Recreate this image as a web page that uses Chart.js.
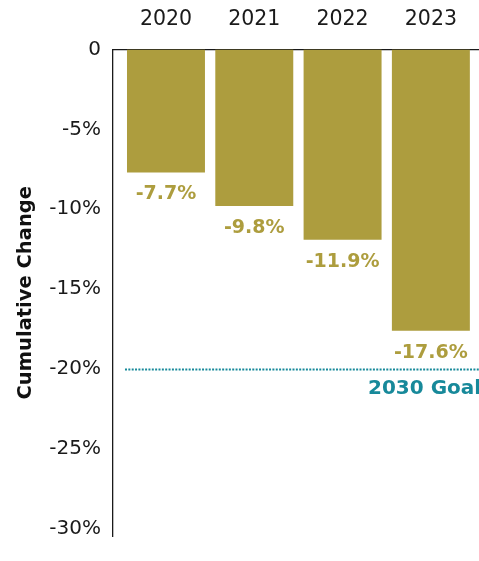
<!DOCTYPE html>
<html>
<head>
<meta charset="utf-8">
<script src="https://cdn.jsdelivr.net/npm/chart.js@4/dist/chart.umd.min.js"></script>
<style>
  html, body { margin: 0; padding: 0; background: #ffffff; }
  #wrap { width: 479px; height: 561px; }
</style>
</head>
<body>
<div id="wrap"><canvas id="chart" width="479" height="561"></canvas></div>
<script>
// Cumulative change by year, in percent
const years = ['2020', '2021', '2022', '2023'];
const cumulativeChange = [-7.7, -9.8, -11.9, -17.6];
const yTickValues = [0, -5, -10, -15, -20, -25, -30];
const goalValue = -20;
const goalLabel = '2030 Goal';

const GOLD = '#ad9d3e';
const TEAL = '#17899a';
const FONT = '"DejaVu Sans", sans-serif';

const fmtPct = v => (v === 0 ? '0' : v.toFixed(Number.isInteger(v) ? 0 : 1) + '%');

// Value labels under each bar and the dotted goal line
const annotate = {
  id: 'annotate',
  afterDatasetsDraw(chart) {
    const { ctx, scales: { y }, chartArea } = chart;
    const meta = chart.getDatasetMeta(0);
    ctx.save();
    ctx.font = 'bold 19px ' + FONT;
    ctx.fillStyle = GOLD;
    ctx.textAlign = 'center';
    ctx.textBaseline = 'middle';
    meta.data.forEach((bar, i) => {
      ctx.fillText(fmtPct(cumulativeChange[i]), bar.x, bar.y + 22);
    });

    const gy = Math.round(y.getPixelForValue(goalValue)) + 0.5;
    ctx.strokeStyle = TEAL;
    ctx.lineWidth = 2;
    ctx.lineCap = 'butt';
    ctx.setLineDash([2, 1.35]);
    ctx.beginPath();
    ctx.moveTo(Math.round(chartArea.left + 12), gy);
    ctx.lineTo(chart.width + 2, gy);
    ctx.stroke();
    ctx.setLineDash([]);

    ctx.font = 'bold 20px ' + FONT;
    ctx.fillStyle = TEAL;
    ctx.textAlign = 'left';
    ctx.fillText(goalLabel, 368, gy + 19.5);
    ctx.restore();
  }
};

new Chart(document.getElementById('chart'), {
  type: 'bar',
  data: {
    datasets: [{
      data: cumulativeChange.map((v, i) => ({ x: i, y: v })),
      backgroundColor: GOLD,
      borderWidth: 0,
      barPercentage: 0.883,
      categoryPercentage: 1
    }]
  },
  options: {
    responsive: false,
    animation: false,
    devicePixelRatio: 1,
    layout: { padding: { left: 0, right: 0, top: 0, bottom: 25 } },
    plugins: { legend: { display: false }, tooltip: { enabled: false } },
    scales: {
      x: {
        type: 'linear',
        position: 'top',
        offset: false,
        min: -0.6,
        max: 3.545,
        afterBuildTicks: s => { s.ticks = years.map((_, i) => ({ value: i })); },
        afterFit: s => { s.height = 49.5; },
        grid: { display: false, drawTicks: false, offset: false },
        border: { display: true, color: '#1a1a1a', width: 1.3 },
        ticks: {
          padding: 18,
          color: '#1a1a1a',
          font: { family: FONT, size: 20.5 },
          callback: v => years[v]
        }
      },
      y: {
        min: -30.45,
        max: 0,
        afterBuildTicks: s => { s.ticks = yTickValues.map(v => ({ value: v })); },
        afterFit: s => { s.width = 113; },
        grid: { display: false, drawTicks: false },
        border: { display: true, color: '#1a1a1a', width: 1.3 },
        ticks: {
          padding: 12,
          color: '#1a1a1a',
          font: { family: FONT, size: 20 },
          callback: v => fmtPct(v)
        },
        title: {
          display: true,
          text: 'Cumulative Change',
          color: '#111111',
          font: { family: FONT, size: 19.5, weight: 'bold' },
          padding: { top: 14, bottom: 4 }
        }
      }
    }
  },
  plugins: [annotate]
});
</script>
</body>
</html>
